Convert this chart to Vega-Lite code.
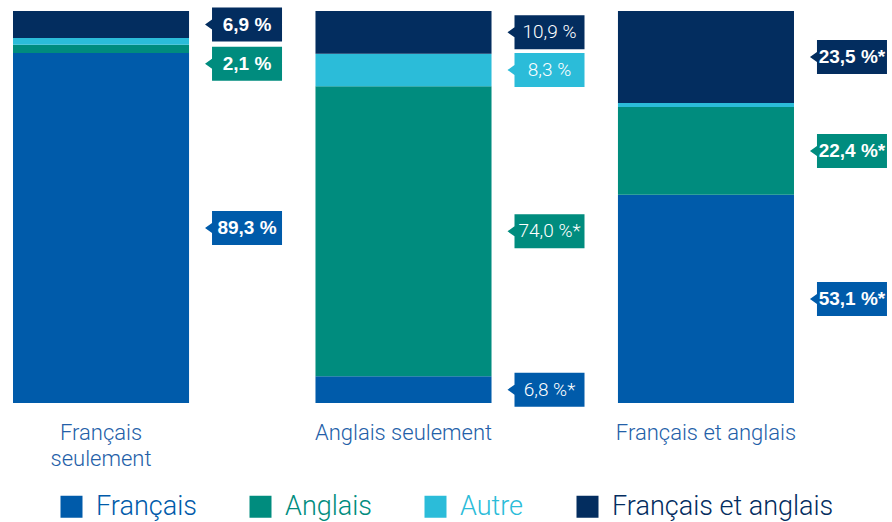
{
  "$schema": "https://vega.github.io/schema/vega-lite/v6.json",
  "width": 807,
  "height": 392,
  "autosize": "none",
  "padding": {"left": 0, "top": 11, "right": 85, "bottom": 119},
  "config": {"view": {"stroke": null}, "font": "Roboto"},
  "data": {
    "values": [
      {"group": "Français seulement", "category": "Français", "value": 89.3, "label": "89,3 %"},
      {"group": "Français seulement", "category": "Anglais", "value": 2.1, "label": "2,1 %"},
      {"group": "Français seulement", "category": "Autre", "value": 1.7, "label": ""},
      {"group": "Français seulement", "category": "Français et anglais", "value": 6.9, "label": "6,9 %"},
      {"group": "Anglais seulement", "category": "Français", "value": 6.8, "label": "6,8 %*"},
      {"group": "Anglais seulement", "category": "Anglais", "value": 74.0, "label": "74,0 %*"},
      {"group": "Anglais seulement", "category": "Autre", "value": 8.3, "label": "8,3 %"},
      {"group": "Anglais seulement", "category": "Français et anglais", "value": 10.9, "label": "10,9 %"},
      {"group": "Français et anglais", "category": "Français", "value": 53.1, "label": "53,1 %*"},
      {"group": "Français et anglais", "category": "Anglais", "value": 22.4, "label": "22,4 %*"},
      {"group": "Français et anglais", "category": "Autre", "value": 1.0, "label": ""},
      {"group": "Français et anglais", "category": "Français et anglais", "value": 23.5, "label": "23,5 %*"}
    ]
  },
  "transform": [
    {"calculate": "indexof(['Français','Anglais','Autre','Français et anglais'], datum.category)", "as": "ord"},
    {"stack": "value", "groupby": ["group"], "sort": [{"field": "ord", "order": "ascending"}], "as": ["v0", "v1"]},
    {"calculate": "(datum.v0 + datum.v1) / 2", "as": "mid"}
  ],
  "encoding": {
    "x": {
      "field": "group",
      "type": "nominal",
      "sort": ["Français seulement", "Anglais seulement", "Français et anglais"],
      "scale": {"paddingInner": 0.418, "paddingOuter": 0.043},
      "axis": {
        "title": null,
        "ticks": false,
        "domain": false,
        "labelAngle": 0,
        "labelFont": "Roboto",
        "labelFontWeight": 300,
        "labelFontSize": 22,
        "labelColor": "#2360a8",
        "labelPadding": 19,
        "labelLineHeight": 26,
        "labelLimit": 300,
        "labelBaseline": "top",
        "labelExpr": "datum.label == 'Français seulement' ? ['Français', 'seulement'] : datum.label"
      }
    }
  },
  "layer": [
    {
      "mark": {"type": "bar"},
      "encoding": {
        "y": {"field": "v0", "type": "quantitative", "scale": {"domain": [0, 100]}, "axis": null},
        "y2": {"field": "v1"},
        "color": {
          "field": "category",
          "type": "nominal",
          "scale": {
            "domain": ["Français", "Anglais", "Autre", "Français et anglais"],
            "range": ["#005baa", "#008c7e", "#2bbcd9", "#032d5f"]
          },
          "legend": {
            "orient": "none",
            "legendX": 58,
            "legendY": 482,
            "direction": "horizontal",
            "title": null,
            "symbolType": "square",
            "symbolSize": 484,
            "symbolStrokeWidth": 0,
            "symbolOpacity": 1,
            "labelFont": "Roboto",
            "labelFontWeight": 300,
            "labelFontSize": 27,
            "labelOffset": 11,
            "labelLimit": 400,
            "columnPadding": 50,
            "encode": {"labels": {"update": {"fill": {"scale": "color", "field": "value"}}}}
          }
        }
      }
    },
    {
      "transform": [{"filter": "datum.label != '' && datum.value >= 3"}],
      "mark": {"type": "point", "shape": "M 1.04 0 L 1.11 -0.05 L 1.11 -0.17 L 1.81 -0.17 L 1.81 0.17 L 1.11 0.17 L 1.11 0.05 Z", "size": 40000, "filled": true, "opacity": 1, "strokeWidth": 0},
      "encoding": {
        "y": {"field": "mid", "type": "quantitative"},
        "color": {"field": "category", "type": "nominal", "legend": null}
      }
    },
    {
      "transform": [{"filter": "datum.label != '' && datum.value < 3"}],
      "mark": {"type": "point", "shape": "M 1.04 0.15 L 1.11 0.10 L 1.11 -0.02 L 1.81 -0.02 L 1.81 0.32 L 1.11 0.32 L 1.11 0.20 Z", "size": 40000, "filled": true, "opacity": 1, "strokeWidth": 0},
      "encoding": {
        "y": {"field": "mid", "type": "quantitative"},
        "color": {"field": "category", "type": "nominal", "legend": null}
      }
    },
    {
      "transform": [{"filter": "datum.label != '' && datum.value >= 3 && datum.group != 'Anglais seulement'"}],
      "mark": {"type": "text", "dx": 146, "align": "center", "baseline": "middle", "color": "white", "font": "Liberation Sans", "fontWeight": "bold", "fontSize": 19},
      "encoding": {
        "y": {"field": "mid", "type": "quantitative"},
        "text": {"field": "label"}
      }
    },
    {
      "transform": [{"filter": "datum.label != '' && datum.group == 'Anglais seulement'"}],
      "mark": {"type": "text", "dx": 146, "align": "center", "baseline": "middle", "color": "white", "font": "Roboto", "fontWeight": 300, "fontSize": 19},
      "encoding": {
        "y": {"field": "mid", "type": "quantitative"},
        "text": {"field": "label"}
      }
    },
    {
      "transform": [{"filter": "datum.label != '' && datum.value < 3"}],
      "mark": {"type": "text", "dx": 146, "dy": 15, "align": "center", "baseline": "middle", "color": "white", "font": "Liberation Sans", "fontWeight": "bold", "fontSize": 19},
      "encoding": {
        "y": {"field": "mid", "type": "quantitative"},
        "text": {"field": "label"}
      }
    }
  ]
}
